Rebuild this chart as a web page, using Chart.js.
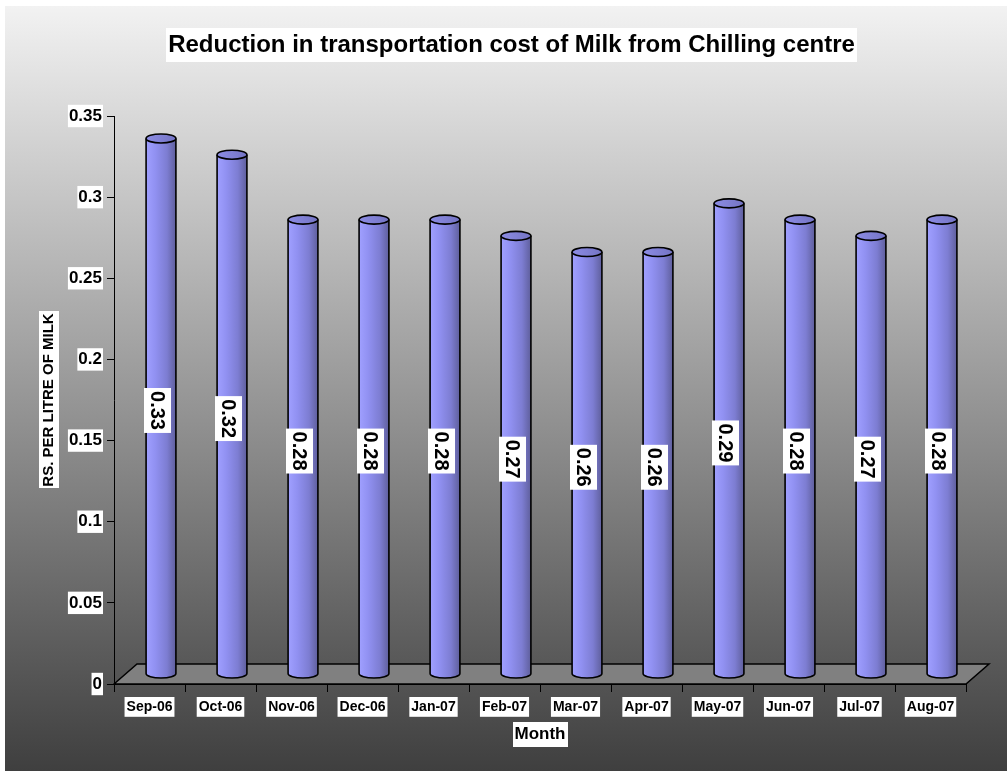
<!DOCTYPE html>
<html><head><meta charset="utf-8">
<script src="https://cdn.jsdelivr.net/npm/chart.js@4/dist/chart.umd.min.js"></script>
<style>html,body{margin:0;padding:0;background:#fff;overflow:hidden}</style>
</head><body>
<canvas id="c" width="1007" height="771"></canvas>
<script>
const months = ['Sep-06','Oct-06','Nov-06','Dec-06','Jan-07','Feb-07','Mar-07','Apr-07','May-07','Jun-07','Jul-07','Aug-07'];
const costPerLitre = [0.33,0.32,0.28,0.28,0.28,0.27,0.26,0.26,0.29,0.28,0.27,0.28];
const valueLabels = ['0.33','0.32','0.28','0.28','0.28','0.27','0.26','0.26','0.29','0.28','0.27','0.28'];
const yTickLabels = ['0','0.05','0.1','0.15','0.2','0.25','0.3','0.35'];
const chartTitle = 'Reduction in transportation cost of Milk from Chilling centre';
const xAxisTitle = 'Month';
const yAxisTitle = 'RS. PER LITRE OF MILK';

const FONT = "'Liberation Sans', Arial, sans-serif";
const DX = 23, DY = -20;

function boxAt(ctx, cx, cy, w, h) {
  ctx.fillStyle = '#ffffff';
  ctx.fillRect(Math.round(cx - w / 2), Math.round(cy - h / 2), Math.round(w), Math.round(h));
}

const backdropPlugin = {
  id: 'backdrop',
  beforeDraw(chart) {
    const ctx = chart.ctx, H = Chart.helpers;
    ctx.save();
    ctx.fillStyle = '#ffffff';
    ctx.fillRect(0, 0, chart.width, chart.height);
    const g = ctx.createLinearGradient(0, 6, 0, chart.height);
    g.addColorStop(0, '#f2f2f2');
    g.addColorStop(1, '#3f3f3f');
    ctx.fillStyle = g;
    ctx.fillRect(5, 6, chart.width - 5, chart.height - 6);
    // chart title backdrop
    const tb = chart.titleBlock;
    const tf = H.toFont(tb.options.font);
    const tp = H.toPadding(tb.options.padding);
    ctx.font = tf.string;
    const tw = ctx.measureText(chartTitle).width;
    boxAt(ctx, (tb.left + tb.right) / 2, tb.top + tp.top + tf.lineHeight / 2, tw + 4, 34);
    // y axis title backdrop
    const ys = chart.scales.y;
    const yf = H.toFont(ys.options.title.font);
    const yp = H.toPadding(ys.options.title.padding);
    ctx.font = yf.string;
    const yw = ctx.measureText(yAxisTitle).width;
    boxAt(ctx, ys.left + yp.top + yf.lineHeight / 2, (ys.top + ys.bottom) / 2, yf.size + 5, yw + 4);
    // x axis title backdrop
    const xs = chart.scales.x;
    const xf = H.toFont(xs.options.title.font);
    const xp = H.toPadding(xs.options.title.padding);
    ctx.font = xf.string;
    const xw = ctx.measureText(xAxisTitle).width;
    boxAt(ctx, (xs.left + xs.right) / 2, xs.bottom - xp.bottom - xf.lineHeight / 2, xw + 4, 25);
    ctx.restore();
  },
  beforeDatasetsDraw(chart) {
    const ctx = chart.ctx;
    const a = chart.chartArea;
    const y0 = chart.scales.y.getPixelForValue(0);
    ctx.save();
    ctx.beginPath();
    ctx.moveTo(a.left, y0);
    ctx.lineTo(a.left + DX, y0 + DY);
    ctx.lineTo(a.right + DX, y0 + DY);
    ctx.lineTo(a.right, y0);
    ctx.closePath();
    ctx.fillStyle = '#808080';
    ctx.fill();
    ctx.lineWidth = 1.5;
    ctx.strokeStyle = '#000';
    ctx.stroke();
    ctx.restore();
  },
  afterDatasetsDraw(chart) {
    const ctx = chart.ctx;
    const meta = chart.getDatasetMeta(0);
    ctx.save();
    meta.data.forEach((bar, i) => {
      const r = bar.width / 2;
      const ry = 4.5;
      const cx = bar.x + DX / 2;
      const top = bar.y + DY / 2;
      const base = bar.base + DY / 2;
      const g = ctx.createLinearGradient(cx - r, 0, cx + r, 0);
      g.addColorStop(0, '#a0a0ff');
      g.addColorStop(0.3, '#9191f2');
      g.addColorStop(0.7, '#7d7dd2');
      g.addColorStop(1, '#5f5f9c');
      ctx.beginPath();
      ctx.moveTo(cx - r, top);
      ctx.lineTo(cx - r, base);
      ctx.ellipse(cx, base, r, ry, 0, Math.PI, 0, true);
      ctx.lineTo(cx + r, top);
      ctx.closePath();
      ctx.fillStyle = g;
      ctx.fill();
      ctx.beginPath();
      ctx.moveTo(cx - r, top);
      ctx.lineTo(cx - r, base);
      ctx.ellipse(cx, base, r, ry, 0, Math.PI, 0, true);
      ctx.lineTo(cx + r, top);
      ctx.lineWidth = 1.6;
      ctx.strokeStyle = '#000';
      ctx.stroke();
      ctx.beginPath();
      ctx.ellipse(cx, top, r, ry, 0, 0, Math.PI * 2);
      const tg = ctx.createLinearGradient(cx - r, 0, cx + r, 0);
      tg.addColorStop(0, '#8c8ce4');
      tg.addColorStop(1, '#7474c4');
      ctx.fillStyle = tg;
      ctx.fill();
      ctx.stroke();
    });
    // value labels, rotated
    ctx.font = 'bold 20px ' + FONT;
    ctx.textAlign = 'center';
    ctx.textBaseline = 'middle';
    meta.data.forEach((bar, i) => {
      const txt = valueLabels[i];
      const w = ctx.measureText(txt).width;
      const lx = bar.x + 8;
      const ly = (bar.y + bar.base) / 2 - 5.5;
      ctx.save();
      ctx.translate(lx, ly);
      ctx.rotate(Math.PI / 2);
      ctx.fillStyle = '#fff';
      ctx.fillRect(-w / 2 - 3, -13.5, w + 6, 27);
      ctx.fillStyle = '#000';
      ctx.fillText(txt, 0, 1);
      ctx.restore();
    });
    ctx.restore();
  }
};

new Chart(document.getElementById('c'), {
  type: 'bar',
  data: {
    labels: months,
    datasets: [{
      label: 'Rs. per litre',
      data: costPerLitre,
      backgroundColor: 'rgba(0,0,0,0)',
      borderWidth: 0,
      barPercentage: 0.42,
      categoryPercentage: 1
    }]
  },
  options: {
    responsive: false,
    animation: false,
    devicePixelRatio: 1,
    layout: { padding: { left: 57, right: 41, top: 0, bottom: 0 } },
    plugins: {
      legend: { display: false },
      tooltip: { enabled: false },
      title: {
        display: true,
        text: chartTitle,
        color: '#000',
        font: { family: FONT, size: 24, weight: 'bold', lineHeight: 1.2 },
        padding: { top: 30.6, bottom: 56.6 }
      }
    },
    scales: {
      x: {
        afterFit(s) { s.height = 87; },
        grid: { display: true, offset: true, drawOnChartArea: false, drawTicks: true, tickLength: 8, color: '#000', lineWidth: 1 },
        border: { display: true, color: '#000', width: 1 },
        ticks: {
          color: '#000', font: { family: FONT, size: 14, weight: 'bold' },
          maxRotation: 0, autoSkip: false, padding: 7,
          showLabelBackdrop: true, backdropColor: '#fff', backdropPadding: { top: 2, bottom: 1, left: 2, right: 2 }
        },
        title: {
          display: true, text: xAxisTitle, color: '#000',
          font: { family: FONT, size: 17, weight: 'bold', lineHeight: 1.2 },
          padding: { top: 0, bottom: 26.3 }
        }
      },
      y: {
        min: 0, max: 0.35,
        afterFit(s) { s.width = 57; },
        afterBuildTicks(s) { s.ticks = yTickLabels.map(t => ({ value: parseFloat(t) })); },
        grid: { display: true, drawOnChartArea: false, drawTicks: true, tickLength: 7, color: '#000', lineWidth: 1 },
        border: { display: true, color: '#000', width: 1 },
        ticks: {
          color: '#000', font: { family: FONT, size: 17, weight: 'bold' },
          padding: 5,
          callback: (v, i) => yTickLabels[i],
          showLabelBackdrop: true, backdropColor: '#fff', backdropPadding: { top: 1, bottom: 1, left: 1, right: 1 }
        },
        title: {
          display: true, text: yAxisTitle, color: '#000',
          font: { family: FONT, size: 15, weight: 'bold', lineHeight: 1.2 },
          padding: { top: -17.5, bottom: 0 }
        }
      }
    }
  },
  plugins: [backdropPlugin]
});
</script>
</body></html>
